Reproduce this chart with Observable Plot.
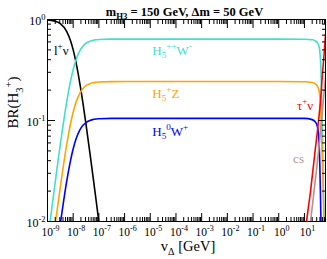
<!DOCTYPE html>
<html><head><meta charset="utf-8">
<script src="https://cdn.jsdelivr.net/npm/d3@7"></script>
<script src="https://cdn.jsdelivr.net/npm/@observablehq/plot@0.6"></script>
<style>body{margin:0;background:#fff} svg{display:block}</style>
</head><body><div id="chart"></div>
<script>
// ---- texts / ticks ----
const titleText = "m_{H3} = 150 GeV, Δm = 50 GeV";
const xLabelText = "v_{Δ} [GeV]";
const yLabelText = "BR(H_{3}^{+})";
const xExponents = [-9,-8,-7,-6,-5,-4,-3,-2,-1,0,1];
const yExponents = [0,-1,-2];
const xMax = 66;

// ---- series (log10 vΔ, BR) ----
const lnuLv = [-9,-8.75,-8.5,-8.25,-8.1,-8,-7.9,-7.75,-7.6,-7.5,-7.35,-7.25,-7.1,-7,-6.95];
const lnuBr = [0.99,0.969,0.909,0.76,0.613,0.5,0.387,0.24,0.137,0.0909,0.0477,0.0307,0.0156,0.0099,0.0079];

const h5ppLv = [-9,-8.9,-8.75,-8.6,-8.5,-8.4,-8.25,-8.1,-8,-7.9,-7.75,-7.6,-7.5,-7.35,-7.25,-7.1,-7,-6.75,-6.5,-6,0,1,1.2,1.32,1.42,1.5,1.56,1.6,1.64,1.67,1.69,1.71,1.73,1.76,1.78];
const h5ppBr = [0.0063,0.0099,0.0196,0.038,0.0582,0.0874,0.154,0.248,0.32,0.392,0.486,0.552,0.582,0.609,0.62,0.63,0.634,0.638,0.639,0.64,0.64,0.637,0.633,0.63,0.615,0.59,0.55,0.48,0.33,0.17,0.1,0.05,0.028,0.012,0.008];

const h5pLv = [-9,-8.8,-8.7,-8.6,-8.5,-8.4,-8.25,-8.1,-8,-7.9,-7.75,-7.6,-7.5,-7.35,-7.25,-7.1,-7,-6.5,-6,0,1,1.3,1.45,1.52,1.58,1.62,1.65,1.68,1.71,1.74,1.77];
const h5pBr = [0.0024,0.006,0.0093,0.0144,0.0221,0.0332,0.0584,0.094,0.1215,0.149,0.185,0.21,0.221,0.231,0.236,0.2392,0.2406,0.2428,0.243,0.243,0.242,0.238,0.228,0.215,0.19,0.15,0.1,0.055,0.03,0.016,0.009];

const h50Lv = [-8.7,-8.6,-8.5,-8.4,-8.25,-8.1,-8,-7.9,-7.75,-7.6,-7.5,-7.35,-7.25,-7.1,-7,-6.5,1,1.3,1.42,1.5,1.55,1.58,1.6,1.62,1.64,1.66];
const h50Br = [0.004,0.0062,0.00955,0.0143,0.0252,0.0406,0.0525,0.0644,0.0798,0.0906,0.0955,0.1,0.102,0.1036,0.104,0.105,0.105,0.102,0.097,0.088,0.072,0.052,0.035,0.02,0.011,0.006];

const tauLv = [1.0,1.082,1.238,1.394,1.55,1.628,1.706,1.764,1.822];
const tauBr = [0.0063,0.01,0.02,0.045,0.1,0.16,0.3,0.45,0.72];

const csLv = [1.15,1.238,1.394,1.55,1.628,1.706,1.764,1.822];
const csBr = [0.0063,0.01,0.022,0.05,0.08,0.13,0.19,0.27];

// ---- curve labels ----
const labelTexts = ["l^{+}ν", "H_{5}^{++}W^{-}", "H_{5}^{+}Z", "H_{5}^{0}W^{+}", "τ^{+}ν", "cs"];
const labelLv = [-8.466, -4.92, -4.92, -4.92, 1.023, 0.77];
const labelBr = [0.493, 0.493, 0.185, 0.078, 0.141, 0.042];

const colors = {lnu:"#000000", h5pp:"#40e0d0", h5p:"#ffa500", h50:"#0000ff", tau:"#ff0000", cs:"#bc8f8f"};
const labelColors = [colors.lnu, colors.h5pp, colors.h5p, colors.h50, colors.tau, colors.cs];
const labelAnchors = ["middle","start","start","start","middle","middle"];

const rows = (lv, br) => lv.map((l,i) => ({v: 10**l, br: br[i]}));
const series = [
  [rows(lnuLv, lnuBr), colors.lnu],
  [rows(h5ppLv, h5ppBr), colors.h5pp],
  [rows(h5pLv, h5pBr), colors.h5p],
  [rows(h50Lv, h50Br), colors.h50],
  [rows(csLv, csBr), colors.cs],
  [rows(tauLv, tauBr), colors.tau]
];
const labels = labelTexts.map((t,i) => ({t, v: 10**labelLv[i], br: labelBr[i], c: labelColors[i], a: labelAnchors[i]}));

const xMajor = xExponents.map(e => 10**e);
const xMinor = [];
for (const e of xExponents) for (let k=2;k<=9;k++) { const v = k*10**e; if (v <= xMax) xMinor.push(v); }
const yMajor = yExponents.map(e => 10**e);
const yMinor = [];
for (const e of [-2,-1]) for (let k=2;k<=9;k++) yMinor.push(k*10**e);
const fmt = d => `10^{${Math.round(Math.log10(d))}}`;
const none = () => "";

const plot = Plot.plot({
  width: 327, height: 259,
  marginLeft: 47, marginRight: 2, marginTop: 19, marginBottom: 38,
  style: {fontFamily: "'Liberation Serif', 'Times New Roman', serif", fontSize: "12px", color: "black", background: "white"},
  x: {type: "log", domain: [1e-9, xMax]},
  y: {type: "log", domain: [0.01, 1]},
  marks: [
    ...series.map(([d,c]) => Plot.line(d, {x: "v", y: "br", stroke: c, strokeWidth: 1.6, curve: "monotone-x", clip: true})),
    Plot.frame({stroke: "black", strokeWidth: 1}),
    // inward ticks
    Plot.axisX(xMajor, {anchor: "bottom", tickSize: 8, dy: -8, tickFormat: none, label: null}),
    Plot.axisX(xMinor, {anchor: "bottom", tickSize: 4, dy: -4, tickFormat: none, label: null}),
    Plot.axisX(xMajor, {anchor: "top", tickSize: 8, dy: 8, tickFormat: none, label: null}),
    Plot.axisX(xMinor, {anchor: "top", tickSize: 4, dy: 4, tickFormat: none, label: null}),
    Plot.axisY(yMajor, {anchor: "left", tickSize: 8, dx: 8, tickFormat: none, label: null}),
    Plot.axisY(yMinor, {anchor: "left", tickSize: 4, dx: 4, tickFormat: none, label: null}),
    Plot.axisY(yMajor, {anchor: "right", tickSize: 8, dx: -8, tickFormat: none, label: null}),
    Plot.axisY(yMinor, {anchor: "right", tickSize: 4, dx: -4, tickFormat: none, label: null}),
    // tick labels
    Plot.axisX(xMajor, {anchor: "bottom", tickSize: 0, tickPadding: 6, dx: 3, tickFormat: fmt, label: null, fontSize: 11.5}),
    Plot.axisY(yMajor, {anchor: "left", tickSize: 0, tickPadding: 2, dy: 2, tickFormat: fmt, label: null, fontSize: 12}),
    // curve labels
    Plot.text(labels.filter(d => d.a === "start"), {x: "v", y: "br", text: "t", fill: "c", textAnchor: "start", fontSize: 13}),
    Plot.text(labels.filter(d => d.a === "middle"), {x: "v", y: "br", text: "t", fill: "c", textAnchor: "middle", fontSize: 13}),
    // title & axis labels
    Plot.text([titleText], {frameAnchor: "top", dy: -12.5, dx: -2, text: d => d, fontSize: 12.5, fontWeight: "bold"}),
    Plot.text([xLabelText], {frameAnchor: "bottom", dy: 29, dx: 1.5, text: d => d, fontSize: 14.5}),
    Plot.text([yLabelText], {frameAnchor: "left", dx: -34, dy: 8, rotate: -90, text: d => d, fontSize: 15})
  ]
});
document.getElementById("chart").appendChild(plot);

function richText(svg) {
  const ns = "http://www.w3.org/2000/svg";
  svg.querySelectorAll("text").forEach(t => {
    const s = t.textContent;
    if (!/[_^]\{/.test(s)) return;
    const fs = parseFloat(getComputedStyle(t).fontSize);
    t.textContent = "";
    let cur = 0;
    const re = /([_^])\{([^}]*)\}|([^_^]+)/g;
    let m;
    while ((m = re.exec(s))) {
      const ts = document.createElementNS(ns, "tspan");
      let target, str, size = null;
      if (m[3] !== undefined) { target = 0; str = m[3]; }
      else { target = m[1] === "_" ? 0.28*fs : -0.42*fs; str = m[2]; size = 0.7*fs; }
      if (target !== cur) ts.setAttribute("dy", (target - cur).toFixed(2));
      cur = target;
      if (size) ts.setAttribute("font-size", size.toFixed(2));
      ts.textContent = str;
      t.appendChild(ts);
    }
  });
}
richText(plot);
</script>
</body></html>
